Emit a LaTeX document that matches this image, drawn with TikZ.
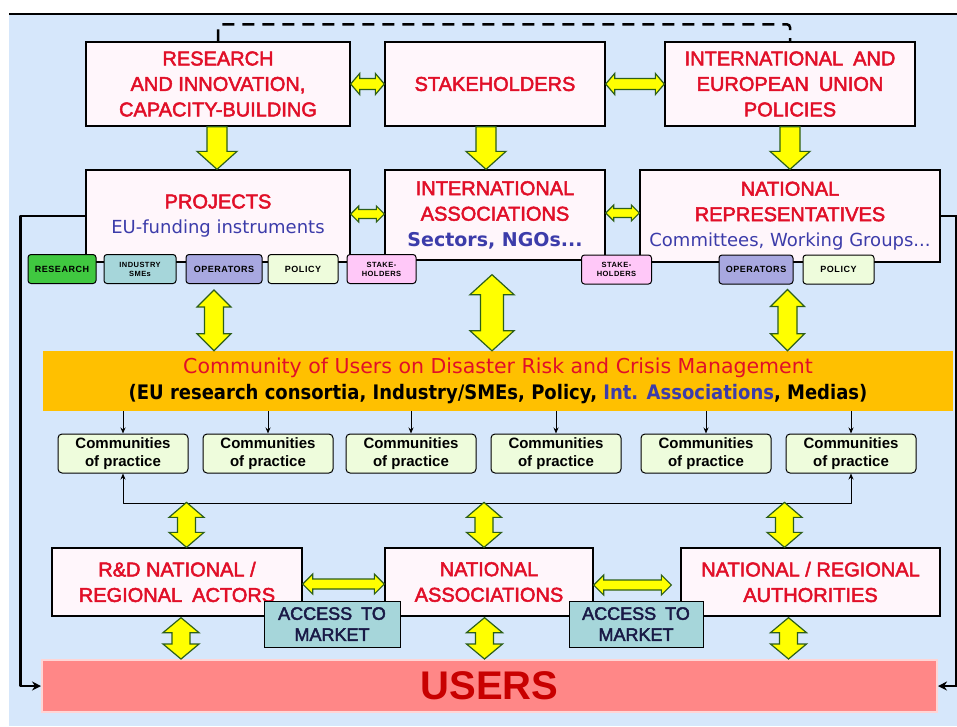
\documentclass[tikz,border=0pt]{standalone}
\usepackage{fontspec}
\setmainfont{Liberation Sans}
\newfontfamily\titlef[FakeBold=2.5]{Liberation Sans}
\newfontfamily\verd{DejaVu Sans}
\newfontfamily\verdn[FakeStretch=0.9]{DejaVu Sans}
\newfontfamily\tagf[LetterSpace=6]{Liberation Sans}
\usetikzlibrary{calc,arrows.meta}

\definecolor{bgblue}{RGB}{214,231,251}
\definecolor{boxpink}{RGB}{255,246,251}
\definecolor{titlered}{RGB}{225,15,40}
\definecolor{subblue}{RGB}{60,60,170}
\definecolor{barorange}{RGB}{255,192,0}
\definecolor{userred}{RGB}{255,135,135}
\definecolor{userdark}{RGB}{200,0,0}
\definecolor{arrowyellow}{RGB}{255,255,0}
\definecolor{arrowgreen}{RGB}{45,95,25}
\definecolor{tgreen}{RGB}{64,200,64}
\definecolor{tteal}{RGB}{166,214,218}
\definecolor{tlav}{RGB}{168,168,224}
\definecolor{tcream}{RGB}{238,252,220}
\definecolor{tpink}{RGB}{255,200,248}
\definecolor{navytext}{RGB}{25,25,70}

\tikzset{
  box/.style={draw, line width=1.3pt, fill=boxpink, text=titlered, align=center, inner sep=0pt,
    font=\titlef\fontsize{20}{25.5}\selectfont},
  tagbox/.style={draw, line width=1pt, rounded corners=3pt, minimum height=29, inner sep=0pt, align=center,
    font=\tagf\bfseries\fontsize{9}{9}\selectfont},
  tagsmall/.style={tagbox, font=\tagf\bfseries\fontsize{7.5}{9}\selectfont},
  copbox/.style={draw, line width=1pt, rounded corners=4pt, fill=tcream, minimum width=130, minimum height=39,
    inner sep=0pt, align=center, font=\bfseries\fontsize{15}{18}\selectfont},
  accbox/.style={draw, line width=1pt, fill=tteal, minimum height=46, inner sep=0pt, align=center,
    text=navytext, font=\titlef\fontsize{18}{21}\selectfont},
  blockarrow/.style={fill=arrowyellow, draw=arrowgreen, line width=1.2pt, line join=miter},
  link/.style={line width=2.5pt, line join=round},
  thin link/.style={line width=1pt, line join=round},
}

% block arrows: point, point, shaft half width, head half width, head length
\newcommand{\blockdown}[5]{%
  \draw[blockarrow] let \p1=#1, \p2=#2 in
    (\x1-#3pt,\y1) -- (\x1+#3pt,\y1) -- (\x1+#3pt,\y2+#5pt) -- (\x1+#4pt,\y2+#5pt)
    -- (\x1,\y2) -- (\x1-#4pt,\y2+#5pt) -- (\x1-#3pt,\y2+#5pt) -- cycle;}
\newcommand{\blockvert}[5]{%
  \draw[blockarrow] let \p1=#1, \p2=#2 in
    (\x1,\y1) -- (\x1+#4pt,\y1-#5pt) -- (\x1+#3pt,\y1-#5pt) -- (\x1+#3pt,\y2+#5pt)
    -- (\x1+#4pt,\y2+#5pt) -- (\x1,\y2) -- (\x1-#4pt,\y2+#5pt) -- (\x1-#3pt,\y2+#5pt)
    -- (\x1-#3pt,\y1-#5pt) -- (\x1-#4pt,\y1-#5pt) -- cycle;}
\newcommand{\blockhoriz}[5]{%
  \draw[blockarrow] let \p1=#1, \p2=#2 in
    (\x1,\y1) -- (\x1+#5pt,\y1+#4pt) -- (\x1+#5pt,\y1+#3pt) -- (\x2-#5pt,\y1+#3pt)
    -- (\x2-#5pt,\y1+#4pt) -- (\x2,\y1) -- (\x2-#5pt,\y1-#4pt) -- (\x2-#5pt,\y1-#3pt)
    -- (\x1+#5pt,\y1-#3pt) -- (\x1+#5pt,\y1-#4pt) -- cycle;}

\begin{document}
\begin{tikzpicture}[x=1pt,y=-1pt]
\useasboundingbox (0,0) rectangle (957,726);
\fill[bgblue] (9,14) rectangle (957,726);
\draw[line width=2.5pt] (9,14) -- (957,14);

% top row
\node[box, minimum width=264, minimum height=84] (res) at (218,84) {RESEARCH\\AND INNOVATION,\\CAPACITY-BUILDING};
\node[box, minimum width=220, minimum height=84] (stk) at (495,84) {STAKEHOLDERS};
\node[box, minimum width=250, minimum height=84] (pol) at (790,84) {INTERNATIONAL\enspace AND\\EUROPEAN\enspace UNION\\POLICIES};
\draw[line width=2.5pt, dash pattern=on 12pt off 8pt, rounded corners=3pt] (res.north) -- ++(0,-17) -| (pol.north);

% second row
\node[box, minimum width=264, minimum height=92] (proj) at (218,216) {PROJECTS\\{\verd\color{subblue}\fontsize{18}{20}\selectfont EU-funding instruments}};
\node[box, minimum width=220, minimum height=90] (assoc) at (495,215) {INTERNATIONAL\\ASSOCIATIONS\\{\verd\bfseries\color{subblue}\fontsize{19}{22}\selectfont Sectors, NGOs...}};
\node[box, minimum width=300, minimum height=92] (natrep) at (790,216) {NATIONAL\\REPRESENTATIVES\\{\verd\color{subblue}\fontsize{18}{20}\selectfont Committees, Working Groups...}};

\blockhoriz{(res.east)}{(stk.west)}{5.5}{10.5}{9}
\blockhoriz{(stk.east)}{(pol.west)}{5.5}{10.5}{9}
\blockdown{($(res.south)+(-1,0)$)}{(proj.north)}{10}{20}{18}
\blockdown{($(stk.south)+(-9,0)$)}{(assoc.north)}{10}{20}{18}
\blockdown{(pol.south)}{(natrep.north)}{10}{20}{18}
\blockhoriz{($(proj.east)+(0,-2)$)}{(assoc.west)}{4.5}{8}{8}
\blockhoriz{($(assoc.east)+(0,-2)$)}{(natrep.west)}{4.5}{8}{8}

% tags
\node[tagbox, fill=tgreen, minimum width=68] (tres) at (62,269) {RESEARCH};
\node[tagsmall, fill=tteal, minimum width=72] (tind) at (140,269) {INDUSTRY\\SMEs};
\node[tagbox, fill=tlav, minimum width=76] (tops) at (224,269) {OPERATORS};
\node[tagbox, fill=tcream, minimum width=70] (tpol) at (303,269) {POLICY};
\node[tagsmall, fill=tpink, minimum width=69] (tstk) at (381.5,269) {STAKE-\\HOLDERS};
\node[tagsmall, fill=tpink, minimum width=70] (tstk2) at (616.5,269.5) {STAKE-\\HOLDERS};
\node[tagbox, fill=tlav, minimum width=74] (tops2) at (756,269.5) {OPERATORS};
\node[tagbox, fill=tcream, minimum width=71] (tpol2) at (838.5,269.5) {POLICY};

% community of users
\node[fill=barorange, minimum width=910, minimum height=60, inner sep=0pt, align=center,
  font=\verd\fontsize{20.5}{26}\selectfont] (bar) at (498,381)
  {{\color{titlered}Community of Users on Disaster Risk and Crisis Management}\\
   {\verdn\bfseries\fontsize{20}{26}\selectfont (EU research consortia, Industry/SMEs, Policy, {\color{subblue}Int. Associations}, Medias)}};

\blockvert{($(proj.south |- tres.south)+(-4,6)$)}{(bar.north)}{9.5}{17}{17}
\blockvert{($(assoc.south)+(-3,14)$)}{(bar.north)}{11.5}{22}{20}
\blockvert{($(natrep.south |- tops2.south)+(-2.5,5)$)}{(bar.north)}{9.5}{17}{17}

% communities of practice
\foreach \n/\x in {1/123,2/268,3/411,4/556,5/706,6/851}
  \node[copbox] (cop\n) at (\x,453.5) {Communities\\of practice};
\foreach \n in {1,...,6}
  \draw[thin link, -{Stealth[length=6pt,width=5pt]}] (cop\n.north |- bar.south) -- (cop\n.north);
\draw[thin link, {Stealth[length=6pt,width=5pt]}-{Stealth[length=6pt,width=5pt]}] (cop1.south) -- ++(0,29.5) -| (cop6.south);

% national level
\node[box, minimum width=250, minimum height=68] (rd) at (177,582) {R\&D NATIONAL /\\REGIONAL\enspace ACTORS};
\node[box, minimum width=208, minimum height=68] (nassoc) at (489,582) {NATIONAL\\ASSOCIATIONS};
\node[box, minimum width=259, minimum height=68] (auth) at (810.5,582) {NATIONAL / REGIONAL\\AUTHORITIES};

\blockvert{($(rd.north)+(9.5,-45)$)}{(rd.north)}{9}{17.5}{15}
\blockvert{($(nassoc.north)+(-5,-45)$)}{(nassoc.north)}{9}{17.5}{15}
\blockvert{($(auth.north)+(-26,-45)$)}{(auth.north)}{9}{17.5}{15}
\blockhoriz{($(rd.east)+(0,2)$)}{(nassoc.west)}{5}{10}{10}
\blockhoriz{($(nassoc.east)+(0,3)$)}{($(auth.west)+(-9,0)$)}{5}{10}{10}

\node[accbox, minimum width=136] (acc1) at (332,624) {ACCESS\enspace TO\\MARKET};
\node[accbox, minimum width=134] (acc2) at (636,624) {ACCESS\enspace TO\\MARKET};

% users
\node[fill=userred, draw=userred!35!white, line width=2pt, minimum width=895, minimum height=52, inner sep=0pt,
  text=userdark, font=\bfseries\fontsize{40}{40}\selectfont] (users) at (489.5,686) {USERS};

\blockvert{($(rd.south)+(4,1)$)}{(users.north)}{9}{18}{15}
\blockvert{($(nassoc.south)+(-4.5,1)$)}{(users.north)}{9}{18}{15}
\blockvert{($(auth.south)+(-22,1)$)}{(users.north)}{9}{18}{15}

\draw[link, -{Stealth[length=9pt,width=9pt]}] (proj.west) -- ++(-65,0) |- (users.west);
\draw[link, -{Stealth[length=9pt,width=9pt]}] (natrep.east) -- ++(16,0) |- (users.east);
\end{tikzpicture}
\end{document}
